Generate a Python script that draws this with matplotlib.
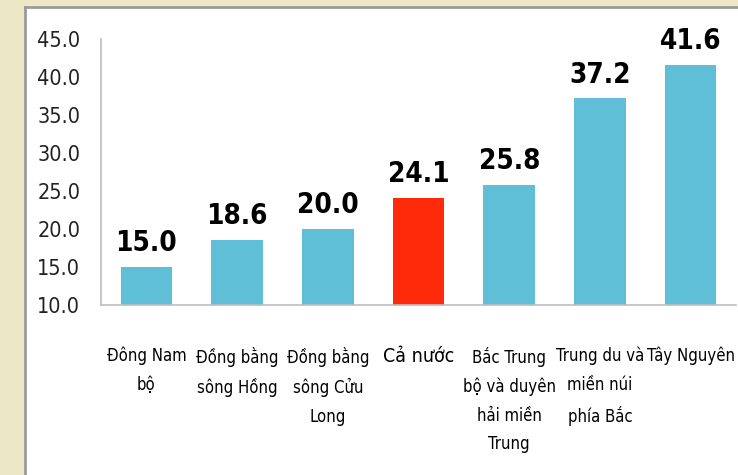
import matplotlib
matplotlib.use('Agg')
import matplotlib.pyplot as plt
from matplotlib.patches import Rectangle
from matplotlib.lines import Line2D

# Data
regions = ['Đông Nam\nbộ', 'Đồng bằng\nsông Hồng', 'Đồng bằng\nsông Cửu\nLong', 'Cả nước',
           'Bắc Trung\nbộ và duyên\nhải miền\nTrung', 'Trung du và\nmiền núi\nphía Bắc', 'Tây Nguyên']
values = [15.0, 18.6, 20.0, 24.1, 25.8, 37.2, 41.6]
highlight = 'Cả nước'
yticks = [10, 15, 20, 25, 30, 35, 40, 45]

blue = '#5FBFD6'
red = '#FF2A0A'

fig = plt.figure(figsize=(7.38, 4.75), dpi=100)
fig.patch.set_facecolor('#ECE8C6')

# white panel with a grey edge at left and top
fig.patches.append(Rectangle((25 / 738, 0), 1, 1 - 7 / 475, transform=fig.transFigure,
                             facecolor='white', edgecolor='none', zorder=-5))
fig.lines.append(Line2D([25 / 738, 25 / 738], [0, 1 - 7 / 475], transform=fig.transFigure,
                        color='#9A9A9A', lw=2, zorder=-4))
fig.lines.append(Line2D([25 / 738, 1], [1 - 7 / 475, 1 - 7 / 475], transform=fig.transFigure,
                        color='#9A9A9A', lw=2, zorder=-4))

ax = fig.add_axes([101 / 738, 1 - 305 / 475, 635 / 738, 266 / 475])
ax.set_facecolor('none')

x = range(len(values))
colors = [red if r == highlight else blue for r in regions]
bars = ax.bar(x, values, width=0.57, color=colors, bottom=0)
ax.set_ylim(10, 45)
ax.set_xlim(-0.5, len(values) - 0.5)

for b, v in zip(bars, values):
    ax.annotate(f'{v:.1f}', (b.get_x() + b.get_width() / 2, v), xytext=(0, 7),
                textcoords='offset points', ha='center', va='bottom',
                fontsize=20, fontweight='bold', fontstretch='condensed')

ax.set_yticks(yticks)
ax.set_yticklabels([f'{t:.1f}' for t in yticks], fontsize=15.5, fontstretch='condensed', color='#222222')
ax.set_xticks(list(x))
ax.set_xticklabels(regions, fontsize=12, fontstretch='condensed', linespacing=1.75, va='top')
for lab in ax.get_xticklabels():
    if lab.get_text() == highlight:
        lab.set_fontsize(14)
ax.tick_params(axis='both', length=0)
ax.tick_params(axis='x', pad=30)
ax.tick_params(axis='y', pad=15)

for s in ['top', 'right']:
    ax.spines[s].set_visible(False)
for s in ['left', 'bottom']:
    ax.spines[s].set_color('#BDBDBD')
    ax.spines[s].set_linewidth(1.2)

fig.savefig('out.png', dpi=100, facecolor=fig.get_facecolor())
